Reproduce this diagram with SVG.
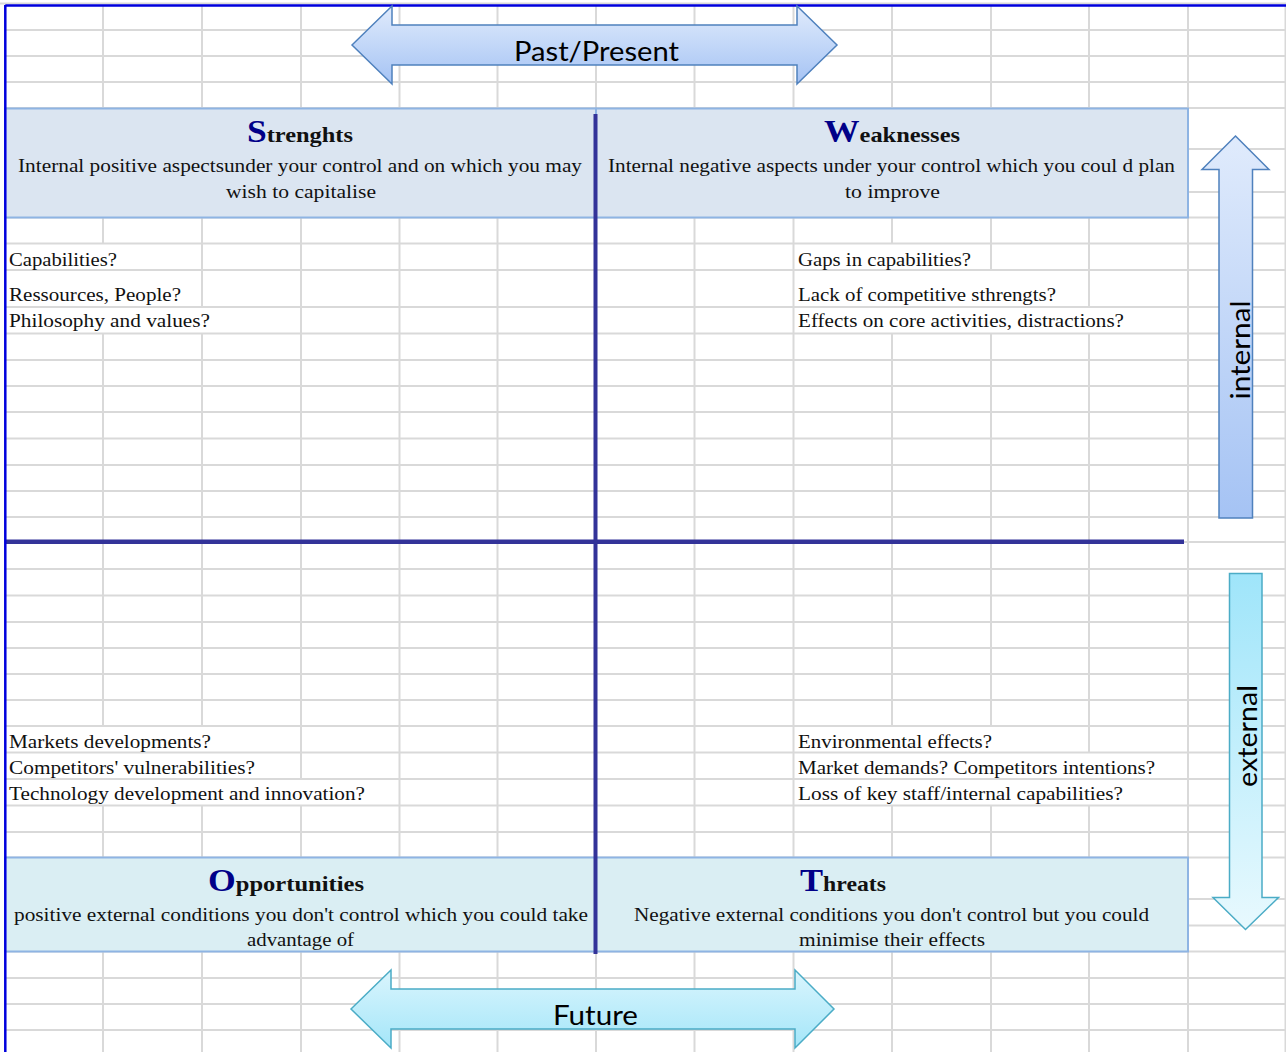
<svg xmlns="http://www.w3.org/2000/svg" width="1286" height="1052" viewBox="0 0 1286 1052">
<style>
.grid{stroke:#d9d9d9;stroke-width:2;fill:none}
.border{stroke:#0000dd;stroke-width:2.5;fill:none}
.axis{stroke:#333399;fill:none}
.boxTop{fill:#dbe5f1;stroke:#8eb4e3;stroke-width:2}
.boxBot{fill:#daeef3;stroke:#8eb4e3;stroke-width:2}
.title{font-family:"Liberation Serif",serif;font-weight:bold;font-size:22px;fill:#111}
.big{font-size:32px;fill:#000088}
.body{font-family:"Liberation Serif",serif;font-size:19px;fill:#111}
.item{font-family:"Liberation Serif",serif;font-size:18px;fill:#111}
.lbl{font-family:Lato,"Open Sans",sans-serif;font-size:27px;fill:#000}
</style>
<defs>
<linearGradient id="gBlue" x1="0" y1="0" x2="0" y2="1"><stop offset="0" stop-color="#e0ebfc"/><stop offset="1" stop-color="#a5c3f4"/></linearGradient>
<linearGradient id="gCyan" x1="0" y1="0" x2="0" y2="1"><stop offset="0" stop-color="#daf5fd"/><stop offset="1" stop-color="#a4e6f9"/></linearGradient>
<linearGradient id="gCyanDown" x1="0" y1="0" x2="0" y2="1"><stop offset="0" stop-color="#9fe5fa"/><stop offset="1" stop-color="#e8f9fe"/></linearGradient>
</defs>
<rect width="1286" height="1052" fill="#fff"/>
<g id="grid">
<path class="grid" d="M0 3.5H1286 M5 30H1286 M5 56H1286 M5 82H1286 M5 108H1286 M5 149H1286 M5 192H1286 M5 217.5H1286 M5 243.5H1286 M5 270H1286 M5 307H1286 M5 333.5H1286 M5 360H1286 M5 386H1286 M5 412H1286 M5 438.5H1286 M5 465H1286 M5 491H1286 M5 517H1286 M5 542H1286 M5 569H1286 M5 595.5H1286 M5 622H1286 M5 648H1286 M5 674H1286 M5 700H1286 M5 726H1286 M5 752.5H1286 M5 779H1286 M5 805.5H1286 M5 832H1286 M5 857.5H1286 M5 899H1286 M5 925.5H1286 M5 951.5H1286 M5 978H1286 M5 1004H1286 M5 1030H1286"/>
<path class="grid" d="M103 5V243.5 M103 333.5V726 M103 805.5V1052 M202 5V307 M202 333.5V726 M202 805.5V1052 M301 5V779 M301 805.5V1052 M399.5 5V1052 M497.5 5V1052 M596 5V1052 M694.5 5V1052 M793.5 5V1052 M892 5V243.5 M892 333.5V726 M892 805.5V1052 M991 5V270 M991 333.5V726 M991 805.5V1052 M1089 5V307 M1089 333.5V752.5 M1089 805.5V1052 M1188 5V1052 M1285.5 5V1052"/>
</g>
<g id="strengths">
<rect class="boxTop" x="5" y="108.5" width="591" height="109"/>
<text class="title" x="247" y="142" textLength="106" lengthAdjust="spacingAndGlyphs"><tspan class="big">S</tspan>trenghts</text>
<text class="body" x="18" y="172" textLength="564" lengthAdjust="spacingAndGlyphs">Internal positive aspectsunder your control and on which you may</text>
<text class="body" x="226" y="198" textLength="150" lengthAdjust="spacingAndGlyphs">wish to capitalise</text>
</g>
<g id="weaknesses">
<rect class="boxTop" x="596" y="108.5" width="592" height="109"/>
<text class="title" x="824" y="142" textLength="136" lengthAdjust="spacingAndGlyphs"><tspan class="big">W</tspan>eaknesses</text>
<text class="body" x="608" y="172" textLength="567" lengthAdjust="spacingAndGlyphs">Internal negative aspects under your control which you coul d plan</text>
<text class="body" x="845" y="198" textLength="95" lengthAdjust="spacingAndGlyphs">to improve</text>
</g>
<g id="opportunities">
<rect class="boxBot" x="5" y="857.5" width="591" height="94"/>
<text class="title" x="208" y="891" textLength="156" lengthAdjust="spacingAndGlyphs"><tspan class="big">O</tspan>pportunities</text>
<text class="body" x="14" y="921" textLength="574" lengthAdjust="spacingAndGlyphs">positive external conditions you don't control which you could take</text>
<text class="body" x="247" y="946" textLength="107" lengthAdjust="spacingAndGlyphs">advantage of</text>
</g>
<g id="threats">
<rect class="boxBot" x="596" y="857.5" width="592" height="94"/>
<text class="title" x="800" y="891" textLength="86" lengthAdjust="spacingAndGlyphs"><tspan class="big">T</tspan>hreats</text>
<text class="body" x="634" y="921" textLength="515" lengthAdjust="spacingAndGlyphs">Negative external conditions you don't control but you could</text>
<text class="body" x="799" y="946" textLength="186" lengthAdjust="spacingAndGlyphs">minimise their effects</text>
</g>
<g id="axes">
<path class="axis" stroke-width="4.5" d="M5 541.7H1184"/>
<path class="axis" stroke-width="4" d="M595.5 114V954"/>
</g>
<g id="frame">
<path class="border" d="M5.3 5.5H1286 M5.3 5V1052"/>
</g>
<g id="strengths-items">
<text class="item" x="9" y="266" textLength="108" lengthAdjust="spacingAndGlyphs">Capabilities?</text>
<text class="item" x="9" y="301" textLength="172" lengthAdjust="spacingAndGlyphs">Ressources, People?</text>
<text class="item" x="9" y="327" textLength="201" lengthAdjust="spacingAndGlyphs">Philosophy and values?</text>
</g>
<g id="weaknesses-items">
<text class="item" x="798" y="266" textLength="173" lengthAdjust="spacingAndGlyphs">Gaps in capabilities?</text>
<text class="item" x="798" y="301" textLength="258" lengthAdjust="spacingAndGlyphs">Lack of competitive sthrengts?</text>
<text class="item" x="798" y="327" textLength="326" lengthAdjust="spacingAndGlyphs">Effects on core activities, distractions?</text>
</g>
<g id="opportunities-items">
<text class="item" x="9" y="748" textLength="202" lengthAdjust="spacingAndGlyphs">Markets developments?</text>
<text class="item" x="9" y="774" textLength="246" lengthAdjust="spacingAndGlyphs">Competitors' vulnerabilities?</text>
<text class="item" x="9" y="800" textLength="356" lengthAdjust="spacingAndGlyphs">Technology development and innovation?</text>
</g>
<g id="threats-items">
<text class="item" x="798" y="748" textLength="194" lengthAdjust="spacingAndGlyphs">Environmental effects?</text>
<text class="item" x="798" y="774" textLength="357" lengthAdjust="spacingAndGlyphs">Market demands? Competitors intentions?</text>
<text class="item" x="798" y="800" textLength="325" lengthAdjust="spacingAndGlyphs">Loss of key staff/internal capabilities?</text>
</g>
<g id="past-present">
<polygon points="352,45 392,6 392,25 797,25 797,6 837,45 797,84 797,65 392,65 392,84" fill="url(#gBlue)" stroke="#4f81bd" stroke-width="1.5"/>
<text class="lbl" x="514" y="61" textLength="165" lengthAdjust="spacingAndGlyphs">Past/Present</text>
</g>
<g id="future">
<polygon points="351,1009 391,970 391,989 795,989 795,970 834,1009 795,1048 795,1029 391,1029 391,1048" fill="url(#gCyan)" stroke="#4bacc6" stroke-width="1.5"/>
<text class="lbl" x="553" y="1025" textLength="85" lengthAdjust="spacingAndGlyphs">Future</text>
</g>
<g id="internal">
<polygon points="1235.5,136 1269,169.5 1252.5,169.5 1252.5,518 1219,518 1219,169.5 1202,169.5" fill="url(#gBlue)" stroke="#4f81bd" stroke-width="1.5"/>
<text class="lbl" transform="translate(1250,350) rotate(-90)" x="-49.5" y="0" textLength="99" lengthAdjust="spacingAndGlyphs">internal</text>
</g>
<g id="external">
<polygon points="1229.5,573.5 1262,573.5 1262,897.5 1278.5,897.5 1245.5,929.5 1213,897.5 1229.5,897.5" fill="url(#gCyanDown)" stroke="#4bacc6" stroke-width="1.5"/>
<text class="lbl" transform="translate(1257,736) rotate(-90)" x="-51" y="0" textLength="102" lengthAdjust="spacingAndGlyphs">external</text>
</g>
</svg>
